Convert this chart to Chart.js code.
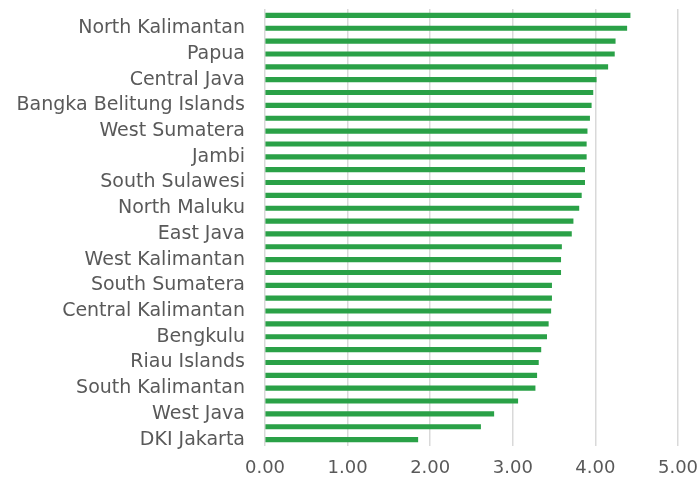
<!DOCTYPE html>
<html>
<head>
<meta charset="utf-8">
<script src="https://cdn.jsdelivr.net/npm/chart.js@4"></script>
<style>
  html, body { margin: 0; padding: 0; background: #fff; }
  #wrap { width: 699px; height: 483px; position: relative; }
</style>
</head>
<body>
<div id="wrap"><canvas id="chart"></canvas></div>
<script>
// Provinces, top to bottom. Only every other one is labelled on the axis.
const categories = [
    '', 'North Kalimantan',
    '', 'Papua',
    '', 'Central Java',
    '', 'Bangka Belitung Islands',
    '', 'West Sumatera',
    '', 'Jambi',
    '', 'South Sulawesi',
    '', 'North Maluku',
    '', 'East Java',
    '', 'West Kalimantan',
    '', 'South Sumatera',
    '', 'Central Kalimantan',
    '', 'Bengkulu',
    '', 'Riau Islands',
    '', 'South Kalimantan',
    '', 'West Java',
    '', 'DKI Jakarta'
];

const values = [
    4.42, 4.38, 4.24, 4.23, 4.15, 4.01, 3.97, 3.95, 3.93, 3.90,
    3.89, 3.89, 3.87, 3.87, 3.83, 3.80, 3.73, 3.71, 3.59, 3.58,
    3.58, 3.47, 3.47, 3.46, 3.43, 3.41, 3.34, 3.31, 3.29, 3.27,
    3.06, 2.77, 2.61, 1.85
];

const xTicks = [0, 1, 2, 3, 4, 5];

const textColor = '#595959';

const ctx = document.getElementById('chart').getContext('2d');
const chart = new Chart(ctx, {
    type: 'bar',
    data: {
        labels: categories,
        datasets: [{
            data: values,
            backgroundColor: '#2aa147',
            borderWidth: 0,
            barThickness: 4.5
        }]
    },
    options: {
        indexAxis: 'y',
        responsive: true,
        maintainAspectRatio: false,
        animation: false,
        layout: {
            padding: { top: 9, right: 21, bottom: 6, left: 0 }
        },
        plugins: {
            legend: { display: false },
            tooltip: { enabled: false }
        },
        scales: {
            x: {
                min: xTicks[0],
                max: xTicks[xTicks.length - 1],
                afterBuildTicks: (scale) => {
                    scale.ticks = xTicks.map(v => ({ value: v }));
                },
                afterFit: (scale) => {
                    scale.height = 31;
                    scale.paddingLeft = 0;
                    scale.paddingRight = 0;
                },
                ticks: {
                    color: textColor,
                    font: { family: 'DejaVu Sans', size: 18 },
                    padding: 12,
                    maxRotation: 0,
                    callback: (v) => Number(v).toFixed(2)
                },
                grid: {
                    color: '#d9d9d9',
                    lineWidth: 1.5,
                    drawTicks: false
                },
                border: { display: false }
            },
            y: {
                afterFit: (scale) => {
                    scale.width = 265;
                    scale.paddingTop = 0;
                    scale.paddingBottom = 0;
                },
                ticks: {
                    color: textColor,
                    font: { family: 'DejaVu Sans', size: 19 },
                    padding: 20,
                    autoSkip: false
                },
                grid: { display: false, drawTicks: false },
                border: { display: false }
            }
        }
    }
});
</script>
</body>
</html>
